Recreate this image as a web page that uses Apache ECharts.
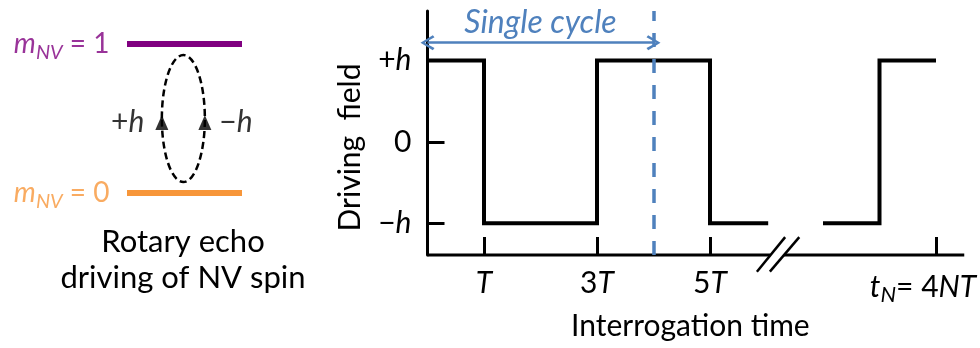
<!DOCTYPE html>
<html><head><meta charset="utf-8">
<script src="https://cdn.jsdelivr.net/npm/echarts@6/dist/echarts.min.js"></script>
<style>html,body{margin:0;padding:0;background:#fff}#c{width:980px;height:348px}</style>
</head><body><div id="c"></div>
<script>
// ---------------- data ----------------
// square-wave driving field (x in units of T, y in units of h)
const waveBefore = [[0,1],[1,1],[1,-1],[3,-1],[3,1],[5,1],[5,-1],[6.03,-1]];
const waveAfter  = [[7,-1],[8,-1],[8,1],[9,1]];
const xTickValues = [1, 3, 5, 9];
const xTickLabels = ['{i|T}', '3{i|T}', '5{i|T}', '{i|t}{sub|N}= 4{i|NT}{sp| }'];
const yTickValues = [-1, 0, 1];
const yTickLabels = ['−{i|h}', '0', '+{i|h}'];
const cycleLength = 4;          // single cycle = 4T
const cycleArrowLevel = 1.22;
const xAxisPieces = [[[0,-1.39],[6.07,-1.39]], [[6.31,-1.39],[9.5,-1.39]]];
const breakMarks  = [[[5.83,-1.595],[6.33,-1.17]], [[6.06,-1.595],[6.58,-1.17]]];
// level diagram
const levelValues = [1, 0];
const levelLabels = ['{m|m}{sub|NV}{eq| = 1}', '{m|m}{sub|NV}{eq| = 0}'];
const loopEllipse = [[0.49, 0.5, 0.187, 0.426]];   // cx, cy, rx, ry
const loopArrows  = [[0.303, 0.473], [0.677, 0.473]];
const arrowLabels = ['+{i|h}', '−{i|h}'];

// ---------------- chart ----------------
const FONT = 'Lato';
const BLUE = '#4F81BD';
const FS = 30;
const chart = echarts.init(document.getElementById('c'), null, {renderer: 'canvas'});

const chevron = 'path://M50,0 L100,88 L86,100 L50,30 L14,100 L0,88 Z';

const blackLine = (data, w) => ({
  type: 'line', xAxisIndex: 0, yAxisIndex: 0, data, symbol: 'none', clip: false, silent: true,
  lineStyle: {color: '#000', width: w, cap: 'butt', join: 'miter'}, z: 3
});

const option = {
  animation: false,
  backgroundColor: '#fff',
  textStyle: {fontFamily: FONT},
  grid: [
    {left: 427.5, top: 11, width: 536.75, height: 244, containLabel: false, outerBoundsMode: 'none'},
    {left: 127, top: 44, width: 115, height: 149, containLabel: false, outerBoundsMode: 'none'}
  ],
  xAxis: [
    {type: 'value', gridIndex: 0, min: 0, max: 9.5,
      axisLine: {show: false, onZero: false},
      axisTick: {show: true, inside: true, length: 18, customValues: xTickValues,
        lineStyle: {color: '#000', width: 3}},
      axisLabel: {show: true, customValues: xTickValues, margin: 13, color: '#000',
        fontSize: FS, fontFamily: FONT, hideOverlap: false,
        formatter: v => xTickLabels[xTickValues.indexOf(v)],
        rich: {
          i: {fontStyle: 'italic', fontSize: FS, fontFamily: FONT, color: '#000'},
          sub: {fontStyle: 'italic', fontSize: 22, fontFamily: FONT, color: '#000', padding: [16,0,0,0]},
          sp: {width: 26}
        }},
      splitLine: {show: false},
      name: 'Interrogation time', nameLocation: 'middle', nameGap: 55,
      nameTextStyle: {fontSize: FS, fontFamily: FONT, color: '#000', padding: [0, 11, 0, 0]}
    },
    {type: 'value', gridIndex: 1, min: 0, max: 1, show: false}
  ],
  yAxis: [
    {type: 'value', gridIndex: 0, min: -1.39, max: 1.61,
      axisLine: {show: true, onZero: false, lineStyle: {color: '#000', width: 3}},
      axisTick: {show: true, inside: true, length: 17, customValues: yTickValues,
        lineStyle: {color: '#000', width: 3}},
      axisLabel: {show: true, customValues: yTickValues, margin: 16, color: '#000',
        fontSize: FS, fontFamily: FONT,
        formatter: v => yTickLabels[yTickValues.indexOf(v)],
        rich: {i: {fontStyle: 'italic', fontSize: FS, fontFamily: FONT, color: '#000'}}},
      splitLine: {show: false}
    },
    {type: 'value', gridIndex: 1, min: 0, max: 1, show: false}
  ],
  graphic: [
    {type: 'text', x: 350, y: 147.5, rotation: Math.PI / 2,
      style: {text: 'Driving  field', font: FS + 'px ' + FONT, fill: '#000',
        textAlign: 'center', textVerticalAlign: 'middle'}},
    {type: 'text', x: 183, y: 242,
      style: {text: 'Rotary echo', font: '31px ' + FONT, fill: '#000',
        textAlign: 'center', textVerticalAlign: 'middle'}},
    {type: 'text', x: 183, y: 278,
      style: {text: 'driving of NV spin', font: '31px ' + FONT, fill: '#000',
        textAlign: 'center', textVerticalAlign: 'middle'}}
  ],
  series: [
    Object.assign(blackLine(xAxisPieces[0], 3), {z: 2}),
    Object.assign(blackLine(xAxisPieces[1], 3), {z: 2}),
    Object.assign(blackLine(breakMarks[0], 2.5), {z: 2}),
    Object.assign(blackLine(breakMarks[1], 2.5), {z: 2}),
    Object.assign(blackLine(waveBefore, 4), {
      markLine: {silent: true, symbol: 'none', animation: false,
        data: [{xAxis: cycleLength}],
        label: {show: false},
        lineStyle: {color: BLUE, width: 3.5, type: [14, 12]}}
    }),
    Object.assign(blackLine(waveAfter, 4), {
      markLine: {silent: true, animation: false,
        symbol: [chevron, chevron], symbolSize: [15, 14], symbolKeepAspect: false,
        data: [[{coord: [0, cycleArrowLevel]}, {coord: [cycleLength, cycleArrowLevel]}]],
        lineStyle: {color: BLUE, width: 2.5, type: 'solid'},
        label: {show: true, position: 'insideMiddleTop', distance: 4, formatter: 'Single cycle',
          color: BLUE, fontStyle: 'italic', fontSize: 32, fontFamily: FONT}}
    }),
    // energy levels
    {type: 'line', xAxisIndex: 1, yAxisIndex: 1, data: [[0, levelValues[0]], [1, levelValues[0]]],
      symbol: 'none', clip: false, silent: true, lineStyle: {color: '#800080', width: 6, cap: 'butt'}},
    {type: 'line', xAxisIndex: 1, yAxisIndex: 1, data: [[0, levelValues[1]], [1, levelValues[1]]],
      symbol: 'none', clip: false, silent: true, lineStyle: {color: '#F7963A', width: 6, cap: 'butt'}},
    // level labels
    {type: 'scatter', xAxisIndex: 1, yAxisIndex: 1, silent: true, symbolSize: 1,
      itemStyle: {color: 'rgba(0,0,0,0)'},
      data: levelValues.map((v, k) => ({
        value: [0, v],
        label: {show: true, position: 'left', distance: 17, formatter: levelLabels[k],
          rich: (c => ({
            m: {fontStyle: 'italic', fontSize: 28, fontFamily: FONT, color: c},
            sub: {fontStyle: 'italic', fontSize: 20, fontFamily: FONT, color: c, padding: [17,0,0,0]},
            eq: {fontSize: 28, fontFamily: FONT, color: c}
          }))(k === 0 ? '#800080' : '#F7963A')}
      }))},
    // dashed loop
    {type: 'custom', xAxisIndex: 1, yAxisIndex: 1, silent: true, data: loopEllipse,
      renderItem: (params, api) => {
        const c = api.coord([api.value(0), api.value(1)]);
        const s = api.size([api.value(2), api.value(3)]);
        return {type: 'ellipse', shape: {cx: c[0], cy: c[1], rx: s[0], ry: s[1]},
          style: {fill: 'none', stroke: '#000', lineWidth: 2.5, lineDash: [7, 4]}};
      }},
    // arrow heads on loop
    {type: 'scatter', xAxisIndex: 1, yAxisIndex: 1, silent: true, symbol: 'triangle',
      symbolSize: [13, 15], itemStyle: {color: '#000'}, z: 5,
      data: loopArrows.map((p, k) => ({
        value: p,
        label: {show: true, position: k === 0 ? 'left' : 'right', distance: k === 0 ? 11 : 8,
          formatter: arrowLabels[k], fontSize: 30, fontFamily: FONT, color: '#000',
          rich: {i: {fontStyle: 'italic', fontSize: 30, fontFamily: FONT, color: '#000'}}}
      }))}
  ]
};
chart.setOption(option);
</script></body></html>
